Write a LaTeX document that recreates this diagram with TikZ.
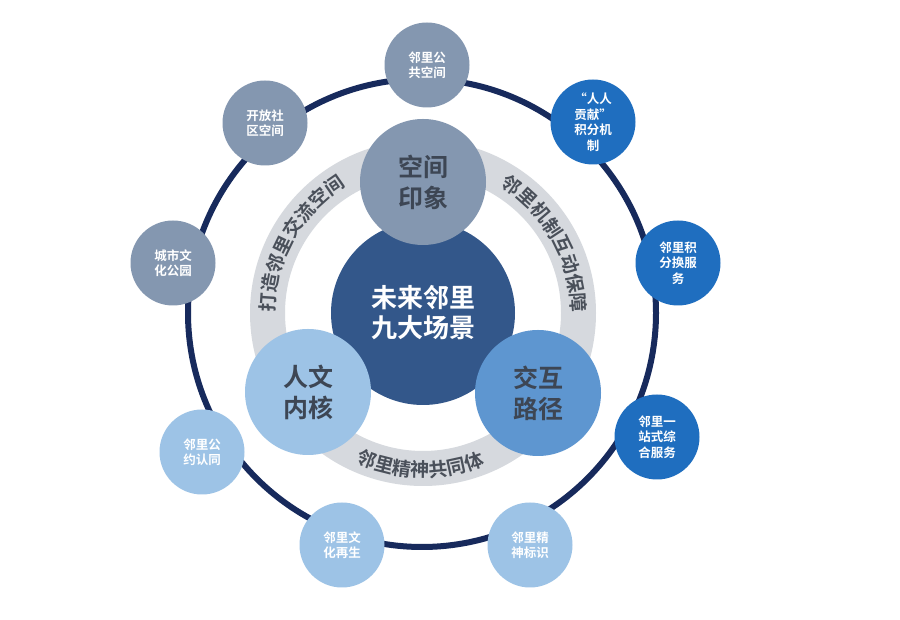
\documentclass[tikz,border=0pt]{standalone}
\usepackage{fontspec}
\newfontfamily\cjkb{Noto Sans CJK SC Bold}
\usetikzlibrary{decorations.text}
\definecolor{navy}{HTML}{172A5C}
\definecolor{centerblue}{HTML}{33578A}
\definecolor{graybl}{HTML}{8497B0}
\definecolor{lightbl}{HTML}{9DC3E6}
\definecolor{midbl}{HTML}{5E96D0}
\definecolor{deepbl}{HTML}{1F6EBF}
\definecolor{annul}{HTML}{D6D9DE}
\definecolor{midtext}{HTML}{3D4654}
\definecolor{arctext}{HTML}{4A505A}
\newcommand{\arcfont}{\cjkb\fontsize{19}{19}\selectfont\color{arctext}}
\begin{document}
\begin{tikzpicture}[x=1pt,y=1pt,
  small/.style={circle, minimum size=85pt, inner sep=0pt, text=white, align=center,
    font=\cjkb\fontsize{12.5}{15.5}\selectfont},
  mid/.style={circle, minimum size=126pt, inner sep=0pt, text=midtext, align=center,
    font=\cjkb\fontsize{25}{31}\selectfont},
  core/.style={circle, minimum size=184pt, inner sep=0pt, text=white, align=center,
    fill=centerblue, font=\cjkb\fontsize{26}{30}\selectfont},
  arclabel/.style={decorate, decoration={text along path, text align=center, text={#1}}}
]
\useasboundingbox[fill=white] (0,0) rectangle (900,620);
\coordinate (C) at (423,307);
% outer ring
\draw[navy, line width=6pt] (422,307) circle[radius=234];
% gray annulus
\fill[annul, even odd rule] (C) circle[radius=173] (C) circle[radius=138];
% curved labels
\path[arclabel={|\arcfont|打造邻里交流空间}] ([shift={(205:148)}]C) arc[start angle=205, end angle=96, radius=148];
\path[arclabel={|\arcfont|邻里机制互动保障}] ([shift={(84:148)}]C) arc[start angle=84, end angle=-25, radius=148];
\path[arclabel={|\arcfont|邻里精神共同体}] ([shift={(215:164)}]C) arc[start angle=215, end angle=323, radius=164];
% centre and three scenes
\node[core] (core) at (C) {未来邻里\\九大场景};
\node[mid, fill=graybl] (kj) at (423,438) {空间\\印象};
\node[mid, fill=lightbl] (rw) at (308,228) {人文\\内核};
\node[mid, fill=midbl] (jh) at (538,227) {交互\\路径};
% small circles
\node[small, fill=graybl] (s1) at (427,555) {邻里公\\共空间};
\node[small, fill=graybl] (s2) at (265,497) {开放社\\区空间};
\node[small, fill=graybl] (s3) at (173,357) {城市文\\化公园};
\node[small, fill=lightbl] (s4) at (202,168) {邻里公\\约认同};
\node[small, fill=lightbl] (s5) at (342,75) {邻里文\\化再生};
\node[small, fill=lightbl] (s6) at (530,75) {邻里精\\神标识};
\node[small, fill=deepbl] (s7) at (657,183) {邻里一\\站式综\\合服务};
\node[small, fill=deepbl] (s8) at (678,357) {邻里积\\分换服\\务};
\node[small, fill=deepbl] (s9) at (593,498) {“人人\\贡献”\\积分机\\制};
\end{tikzpicture}
\end{document}
